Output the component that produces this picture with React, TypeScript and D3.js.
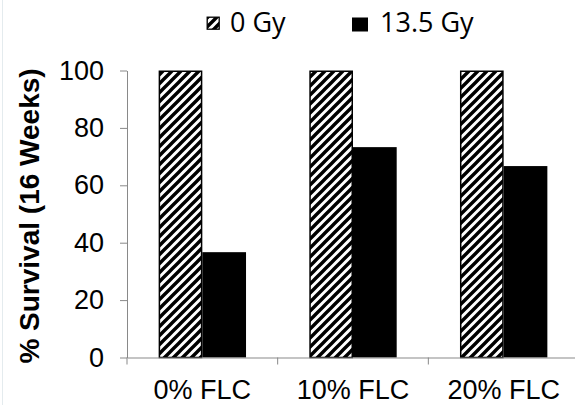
import { useEffect, useRef } from 'react';
import * as d3 from 'd3';

const categories = ['0% FLC', '10% FLC', '20% FLC'];
const seriesNames = ['0 Gy', '13.5 Gy'];
const survival0Gy = [100, 100, 100];
const survival135Gy = [36.7, 73.3, 66.7];
const yTicks = [0, 20, 40, 60, 80, 100];

const W = 575;
const H = 405;
const PLOT = { left: 127, right: 579, top: 70.5, bottom: 357.5 };
const AXIS = '#898989';
const FONT = "Arial, 'Liberation Sans', sans-serif";
const LEGEND_FONT = "'Open Sans', Lato, sans-serif";

export default function App() {
  const svgRef = useRef<SVGSVGElement>(null);

  useEffect(() => {
    const svg = d3.select(svgRef.current);
    svg.selectAll('*').remove();

    // hatch pattern ("wide upward diagonal")
    const P = 9;
    const defs = svg.append('defs');
    const pat = defs.append('pattern')
      .attr('id', 'hatch')
      .attr('patternUnits', 'userSpaceOnUse')
      .attr('width', P)
      .attr('height', P);
    pat.append('rect').attr('width', P).attr('height', P).attr('fill', '#fff');
    pat.append('path')
      .attr('d', `M0,${P} L${P},0 M${-P / 2},${P / 2} L${P / 2},${-P / 2} M${P / 2},${P * 1.5} L${P * 1.5},${P / 2}`)
      .attr('stroke', '#000')
      .attr('stroke-width', 3.4);

    // faint left border
    svg.append('line')
      .attr('x1', 2.5).attr('x2', 2.5).attr('y1', 0).attr('y2', H)
      .attr('stroke', '#e4ebee').attr('stroke-width', 1);

    const x = d3.scaleBand<string>()
      .domain(categories)
      .range([PLOT.left, PLOT.right])
      .paddingInner(0.42)
      .paddingOuter(0.21);
    const xs = d3.scaleBand<string>().domain(seriesNames).range([0, x.bandwidth()]);
    const y = d3.scaleLinear().domain([0, 100]).range([PLOT.bottom, PLOT.top]);

    const g = svg.append('g');

    // bars
    const rows = categories.map((c, i) => ({ c, vals: [survival0Gy[i], survival135Gy[i]] }));
    rows.forEach((r) => {
      r.vals.forEach((v, j) => {
        const isHatch = j === 0;
        g.append('rect')
          .attr('x', (x(r.c) as number) + (xs(seriesNames[j]) as number) + (isHatch ? 0.75 : 0))
          .attr('y', y(v) + (isHatch ? 0.75 : 0))
          .attr('width', xs.bandwidth() - (isHatch ? 1.5 : 0))
          .attr('height', y(0) - y(v) - (isHatch ? 0.75 : 0))
          .attr('fill', isHatch ? 'url(#hatch)' : '#000')
          .attr('stroke', isHatch ? '#000' : 'none')
          .attr('stroke-width', 1.5);
      });
    });

    // y axis
    const yAxis = g.append('g')
      .attr('transform', `translate(${PLOT.left},0)`)
      .call(d3.axisLeft(y).tickValues(yTicks).tickSize(7).tickSizeOuter(0).tickPadding(16));
    yAxis.select('.domain').attr('stroke', AXIS);
    yAxis.selectAll('.tick line').attr('stroke', AXIS);
    yAxis.selectAll('.tick text')
      .attr('fill', '#000')
      .attr('font-size', '27px')
      .attr('font-family', FONT);

    // x axis
    const xAxis = g.append('g')
      .attr('transform', `translate(0,${PLOT.bottom})`)
      .call(d3.axisBottom(x).tickSize(0).tickSizeOuter(0));
    xAxis.select('.domain').attr('stroke', AXIS);
    xAxis.selectAll('.tick text')
      .attr('dy', null)
      .attr('y', 41.5)
      .attr('fill', '#000')
      .attr('font-size', '27px')
      .attr('font-family', FONT);
    const half = (x.step() * x.paddingInner()) / 2;
    categories.forEach((c) => {
      const bx = (x(c) as number) - half;
      xAxis.append('line')
        .attr('x1', bx).attr('x2', bx).attr('y1', 0).attr('y2', 7)
        .attr('stroke', AXIS);
    });

    // y title
    svg.append('text')
      .attr('transform', `translate(39,216) rotate(-90)`)
      .attr('text-anchor', 'middle')
      .attr('font-family', FONT)
      .attr('font-weight', 'bold')
      .attr('font-size', '28px')
      .attr('fill', '#000')
      .text('% Survival (16 Weeks)');

    // legend
    const lg = svg.append('g');
    lg.append('rect')
      .attr('x', 207.2).attr('y', 17.2).attr('width', 12).attr('height', 12)
      .attr('fill', 'url(#hatch)').attr('stroke', '#000').attr('stroke-width', 1.3);
    lg.append('text')
      .attr('x', 230).attr('y', 31.5)
      .attr('font-family', LEGEND_FONT).attr('font-size', '27px').attr('fill', '#000')
      .text(seriesNames[0]);
    lg.append('rect')
      .attr('x', 352).attr('y', 17.5).attr('width', 16).attr('height', 14)
      .attr('fill', '#000');
    lg.append('text')
      .attr('x', 380).attr('y', 31.5)
      .attr('font-family', LEGEND_FONT).attr('font-size', '27px').attr('fill', '#000')
      .text(seriesNames[1]);
  }, []);

  return (
    <div style={{ position: 'fixed', left: 0, top: 0, width: W, height: H, background: '#fff' }}>
      <svg ref={svgRef} width={W} height={H} style={{ display: 'block' }} />
    </div>
  );
}
